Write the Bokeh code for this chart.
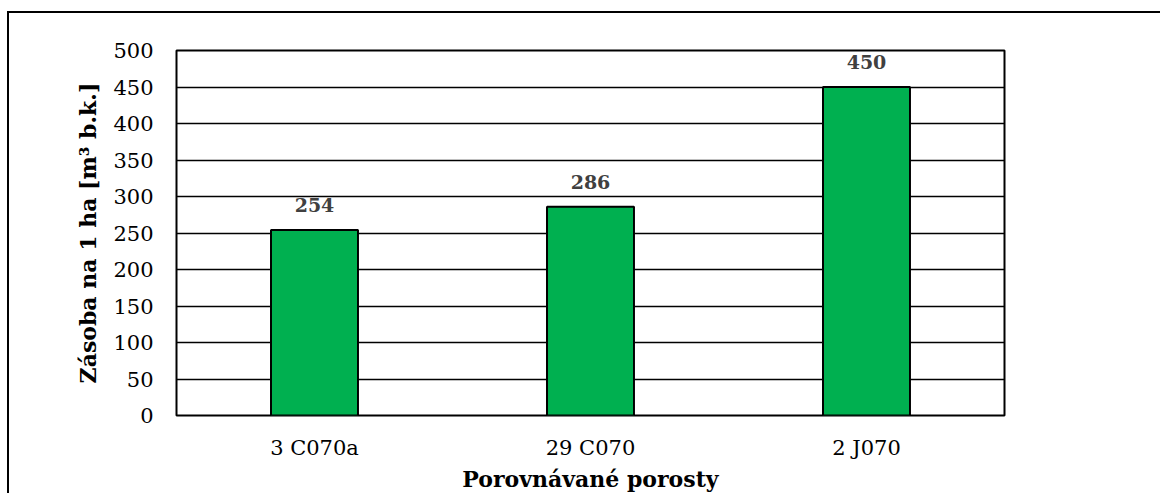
from bokeh.plotting import figure
from bokeh.models import ColumnDataSource, FixedTicker, LabelSet
from bokeh.core.properties import value
from bokeh.embed import file_html
from bokeh.resources import INLINE

# Growing stock per hectare for the compared stands
stands = ["3 C070a", "29 C070", "2 J070"]
volumes = [254, 286, 450]
y_ticks = [0, 50, 100, 150, 200, 250, 300, 350, 400, 450, 500]

FONT = "DejaVu Serif"

source = ColumnDataSource(data=dict(
    stand=stands,
    volume=volumes,
    label=[str(v) for v in volumes],
))

p = figure(
    x_range=stands,
    y_range=(0, 500),
    width=1153,
    height=482,
    output_backend="svg",
    toolbar_location=None,
    min_border_left=167,
    min_border_right=158,
    min_border_top=37,
    min_border_bottom=80,
)
p.margin = (11, 0, 0, 7)
p.styles = {"border-left": "2px solid #000000", "border-top": "2px solid #000000"}

p.vbar(x="stand", top="volume", width=0.315, source=source,
       fill_color="#00B050", line_color="#000000", line_width=2)

labels = LabelSet(x="stand", y="volume", text="label", source=source,
                  text_align="center", text_baseline="bottom", y_offset=18,
                  text_font=value(FONT), text_font_size="19px",
                  text_font_style="bold", text_color="#404040")
p.add_layout(labels)

# plot area and grid
p.outline_line_color = "#000000"
p.outline_line_width = 2
p.xgrid.grid_line_color = None
p.ygrid.grid_line_color = "#000000"
p.ygrid.grid_line_width = 1.3
p.ygrid.ticker = FixedTicker(ticks=y_ticks)
p.background_fill_color = "#ffffff"
p.border_fill_color = "#ffffff"

# y axis
p.yaxis.ticker = FixedTicker(ticks=y_ticks)
p.yaxis.axis_label = "Zásoba na 1 ha [m³ b.k.]"
p.yaxis.axis_label_text_font = FONT
p.yaxis.axis_label_text_font_size = "22px"
p.yaxis.axis_label_text_font_style = "bold"
p.yaxis.axis_label_text_color = "#000000"
p.yaxis.axis_label_standoff = 9
p.yaxis.major_label_text_font = FONT
p.yaxis.major_label_text_font_size = "21px"
p.yaxis.major_label_text_color = "#000000"
p.yaxis.major_label_standoff = 17
p.yaxis.axis_line_color = None
p.yaxis.major_tick_line_color = None
p.yaxis.minor_tick_line_color = None

# x axis
p.xaxis.axis_label = "Porovnávané porosty"
p.xaxis.axis_label_text_font = FONT
p.xaxis.axis_label_text_font_size = "22px"
p.xaxis.axis_label_text_font_style = "bold"
p.xaxis.axis_label_text_color = "#000000"
p.xaxis.axis_label_standoff = 3
p.xaxis.major_label_text_font = FONT
p.xaxis.major_label_text_font_size = "21px"
p.xaxis.major_label_text_color = "#000000"
p.xaxis.major_label_standoff = 14
p.xaxis.axis_line_color = None
p.xaxis.major_tick_line_color = None
p.xaxis.minor_tick_line_color = None

open("out.html", "w").write(file_html(p, INLINE))
